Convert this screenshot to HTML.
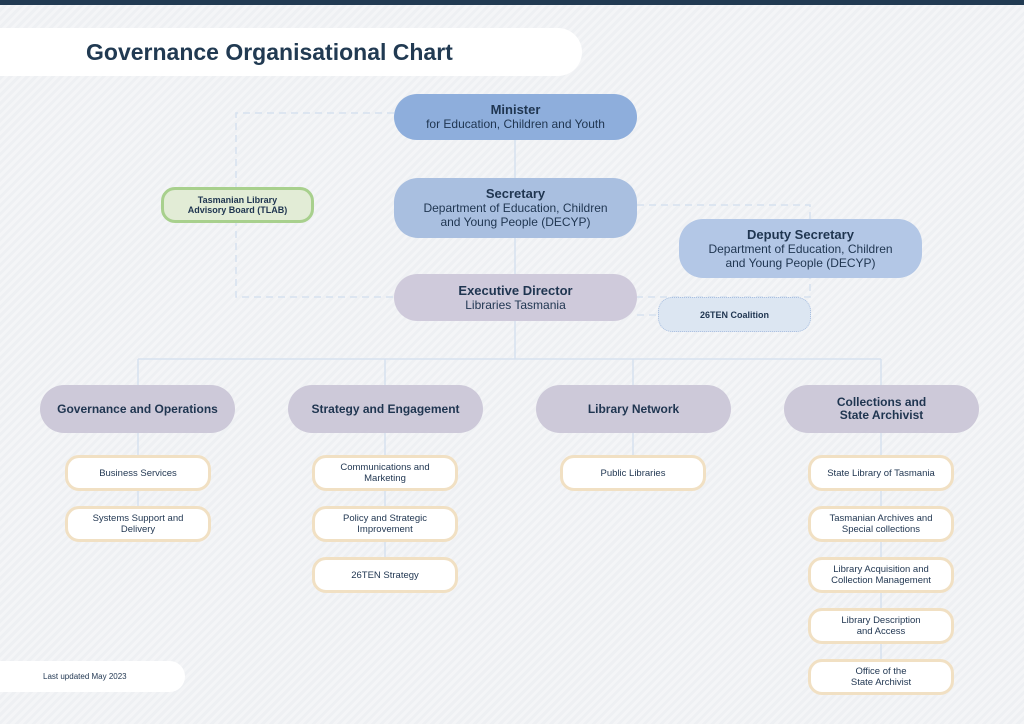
<!DOCTYPE html>
<html><head><meta charset="utf-8">
<style>
*{margin:0;padding:0;box-sizing:border-box}
body{width:1024px;height:724px;overflow:hidden;position:relative;font-family:"Liberation Sans",sans-serif;color:#1f3550;
background:repeating-linear-gradient(135deg,#eef0f3 0 3px,#f4f5f7 3px 6px);}
.bar{position:absolute;left:0;top:0;width:1024px;height:5px;background:#213a52}
.title{position:absolute;left:0;top:28px;width:582px;height:48px;background:#fff;border-radius:0 24px 24px 0;font-weight:bold;font-size:23px;line-height:48px;padding-left:86px;color:#213a52}
.b{position:absolute;display:flex;flex-direction:column;align-items:center;justify-content:center;text-align:center;border-radius:24px}
.big{font-size:12px;line-height:14px}
.big b{font-size:13px}
.l2{background:#cdc9d9;font-weight:bold;font-size:12px;line-height:13px;width:195px;height:48px;top:385px}
.c{background:#fff;border:3px solid #f1e0c3;border-radius:14px;width:146px;height:36px;font-size:9.5px;line-height:11px}
svg{position:absolute;left:0;top:0}
.foot{position:absolute;left:0;top:661px;width:185px;height:31px;background:#fff;border-radius:0 16px 16px 0;font-size:8px;line-height:31px;padding-left:43px}
</style></head><body>
<div class="bar"></div>
<div class="title">Governance Organisational Chart</div>
<svg width="1024" height="724">
<g stroke="#d6e1ef" stroke-width="1.5" fill="none">
<path d="M515 140V359M138 359H881M138 359V385M385 359V385M633 359V385M881 359V385"/>
<path d="M138 433V455M138 490V506M385 433V455M385 490V506M385 541V557M633 433V455M881 433V455M881 490V506M881 541V557M881 593V608M881 643V659"/>
<path stroke-dasharray="7 5" d="M394 113H236V297H394M637 205H810V297H637M637 315H658"/>
</g></svg>
<div class="b big" style="left:394px;top:94px;width:243px;height:46px;background:#8eaedc"><b>Minister</b>for Education, Children and Youth</div>
<div class="b big" style="left:394px;top:178px;width:243px;height:60px;background:#a9bfe0"><b>Secretary</b>Department of Education, Children<br>and Young People (DECYP)</div>
<div class="b big" style="left:679px;top:219px;width:243px;height:59px;background:#b3c7e6"><b>Deputy Secretary</b>Department of Education, Children<br>and Young People (DECYP)</div>
<div class="b" style="left:161px;top:187px;width:153px;height:36px;background:#e2ecd6;border:3px solid #a8d08d;border-radius:14px;font-size:9px;font-weight:bold;line-height:10px">Tasmanian Library<br>Advisory Board (TLAB)</div>
<div class="b big" style="left:394px;top:274px;width:243px;height:47px;background:#cfcadb"><b>Executive Director</b>Libraries Tasmania</div>
<div class="b" style="left:658px;top:297px;width:153px;height:35px;background:#dce6f2;border:1px dotted #a9bfe0;border-radius:14px;font-size:9px;font-weight:bold">26TEN Coalition</div>
<div class="b l2" style="left:40px">Governance and Operations</div>
<div class="b l2" style="left:288px">Strategy and Engagement</div>
<div class="b l2" style="left:536px">Library Network</div>
<div class="b l2" style="left:784px">Collections and<br>State Archivist</div>
<div class="b c" style="left:65px;top:455px">Business Services</div>
<div class="b c" style="left:65px;top:506px">Systems Support and<br>Delivery</div>
<div class="b c" style="left:312px;top:455px">Communications and<br>Marketing</div>
<div class="b c" style="left:312px;top:506px">Policy and Strategic<br>Improvement</div>
<div class="b c" style="left:312px;top:557px">26TEN Strategy</div>
<div class="b c" style="left:560px;top:455px">Public Libraries</div>
<div class="b c" style="left:808px;top:455px">State Library of Tasmania</div>
<div class="b c" style="left:808px;top:506px">Tasmanian Archives and<br>Special collections</div>
<div class="b c" style="left:808px;top:557px">Library Acquisition and<br>Collection Management</div>
<div class="b c" style="left:808px;top:608px">Library Description<br>and Access</div>
<div class="b c" style="left:808px;top:659px">Office of the<br>State Archivist</div>
<div class="foot">Last updated May 2023</div>
</body></html>
